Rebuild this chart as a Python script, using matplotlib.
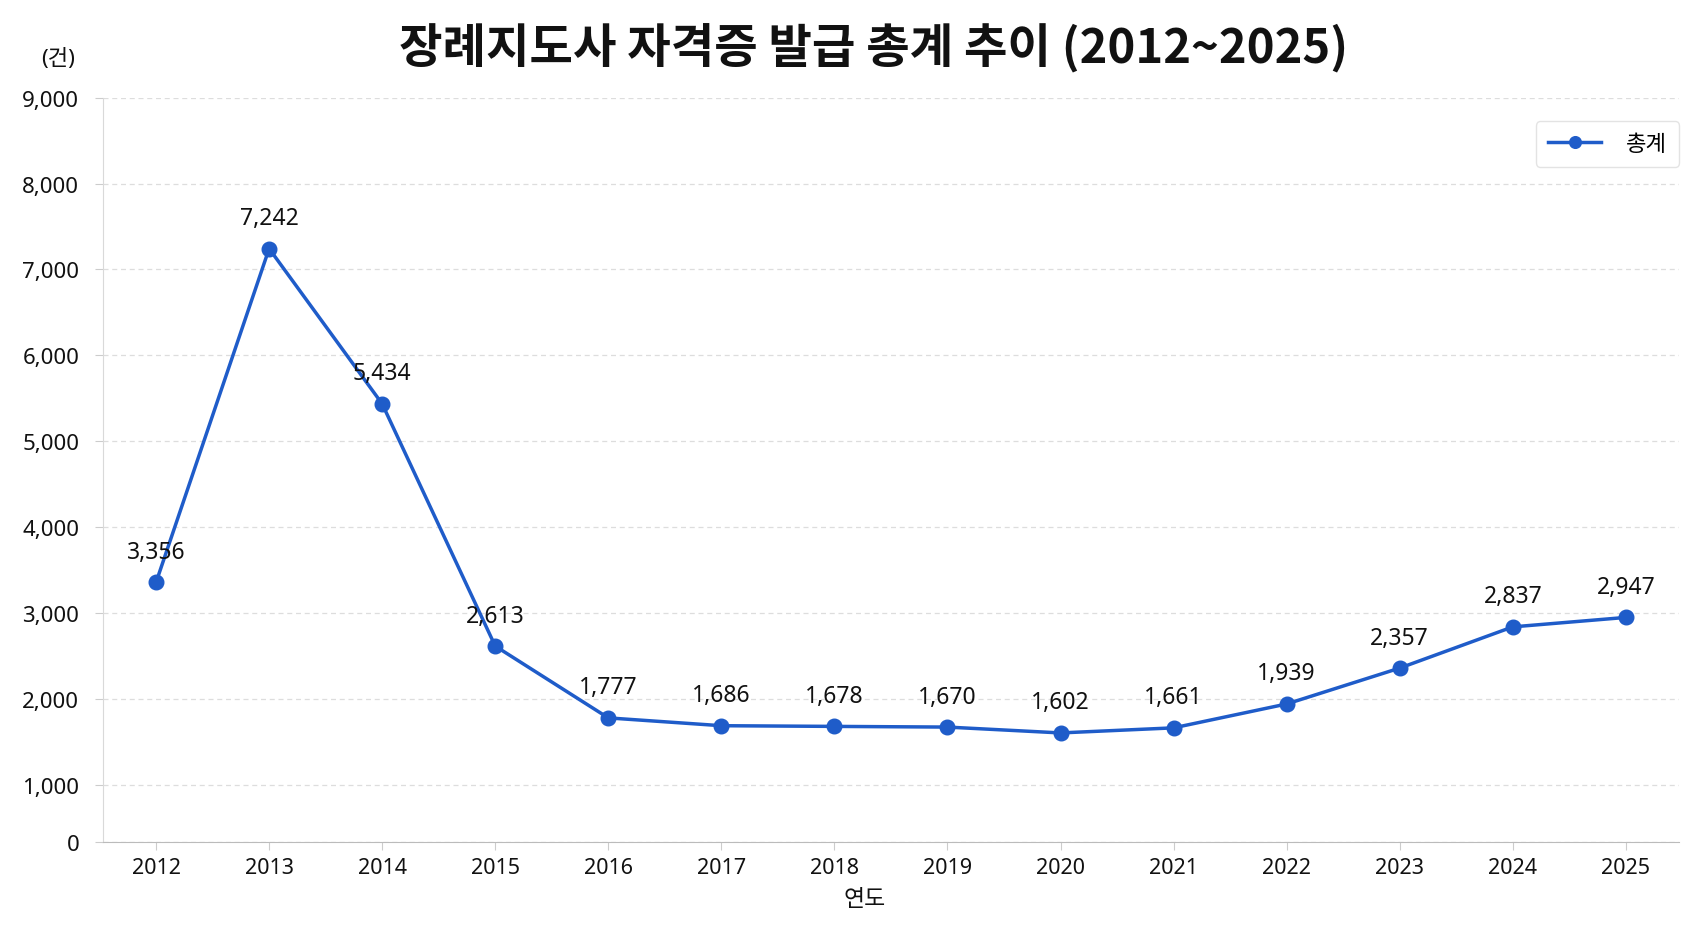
import matplotlib
matplotlib.use("Agg")
import matplotlib.pyplot as plt

years = [2012, 2013, 2014, 2015, 2016, 2017, 2018, 2019, 2020, 2021, 2022, 2023, 2024, 2025]
totals = [3356, 7242, 5434, 2613, 1777, 1686, 1678, 1670, 1602, 1661, 1939, 2357, 2837, 2947]
ytick_values = [1000, 2000, 3000, 4000, 5000, 6000, 7000, 8000, 9000]

title = "장례지도사 자격증 발급 총계 추이 (2012~2025)"
series_name = "총계"
x_label = "연도"
unit_label = "(건)"

plt.rcParams['font.family'] = ['Noto Sans', 'Noto Sans CJK KR', 'DejaVu Sans']

BLUE = "#1f5cc9"


def main():
    fig = plt.figure(figsize=(16.93, 9.29), dpi=100)
    ax = fig.add_axes([0.0608, 0.0926, 0.9309, 0.8012])

    ax.plot(years, totals, color=BLUE, linewidth=2.5, marker="o", markersize=10.5,
            label=series_name, zorder=3)

    for x, y in zip(years, totals):
        ax.annotate(f"{y:,}", (x, y), xytext=(0, 22), textcoords="offset points",
                    ha="center", va="center", fontsize=16.5, color="#111111")

    # axis bottom sits a bit above zero in the original; label it "0"
    ymin = 332
    ax.set_ylim(ymin, 9000)
    ax.set_xlim(years[0] - 0.47, years[-1] + 0.47)
    ax.set_yticks([ymin] + ytick_values)
    ax.set_yticklabels(["0"] + [f"{v:,}" for v in ytick_values])
    ax.set_xticks(years)
    ax.set_xticklabels([str(y) for y in years])

    ax.grid(axis="y", color="#dddddd", linestyle=(0, (4, 3)), linewidth=0.9)
    ax.set_axisbelow(True)
    for s in ["top", "right"]:
        ax.spines[s].set_visible(False)
    ax.spines["left"].set_color("#d9d9d9")
    ax.spines["bottom"].set_color("#bbbbbb")
    ax.tick_params(axis="both", labelsize=15.5, colors="#111111", length=6,
                   color="#cccccc", width=0.8)
    ax.tick_params(axis="y", pad=11, labelsize=16)
    ax.tick_params(axis="x", pad=5)

    leg = ax.legend(loc="upper right", bbox_to_anchor=(1.0, 0.968), fontsize=16,
                    frameon=True, fancybox=True, handlelength=2.4, borderpad=0.55,
                    borderaxespad=0, handletextpad=1.1, markerscale=0.8)
    leg.get_frame().set_edgecolor("#dddddd")
    leg.get_frame().set_linewidth(1.0)

    fig.text(0.516, 0.947, title, ha="center", va="center", fontsize=34,
             fontweight="bold", color="#111111", family="Noto Sans CJK KR")
    fig.text(0.0344, 0.936, unit_label, ha="center", va="center", fontsize=16,
             color="#111111")
    fig.text(0.511, 0.031, x_label, ha="center", va="center", fontsize=16.5,
             color="#111111")

    fig.savefig("out.png", dpi=100, facecolor="white")
    plt.close(fig)


if __name__ == '__main__':
    main()
